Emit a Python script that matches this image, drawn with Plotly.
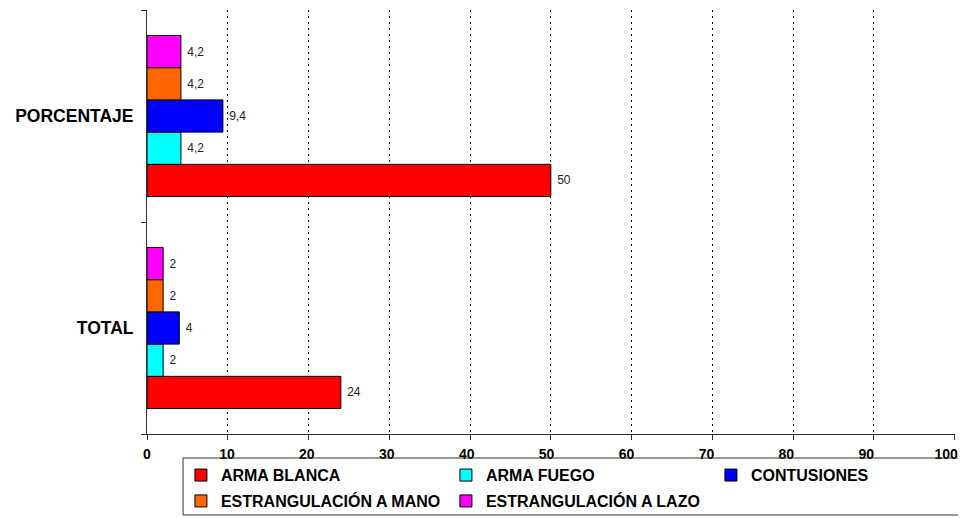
import plotly.graph_objects as go

categorias = ['TOTAL', 'PORCENTAJE']
arma_blanca = [24, 50]
arma_fuego = [2, 4.2]
contusiones = [4, 9.4]
estrang_mano = [2, 4.2]
estrang_lazo = [2, 4.2]
x_ticks = [0, 10, 20, 30, 40, 50, 60, 70, 80, 90, 100]

series = [
    ('ARMA BLANCA', arma_blanca, '#FF0000', 'legend'),
    ('ARMA FUEGO', arma_fuego, '#00FFFF', 'legend'),
    ('CONTUSIONES', contusiones, '#0000FF', 'legend'),
    ('ESTRANGULACIÓN A MANO', estrang_mano, '#FF6600', 'legend2'),
    ('ESTRANGULACIÓN A LAZO', estrang_lazo, '#FF00FF', 'legend2'),
]

def fmt(v):
    # coma decimal como en el original
    return '\u00a0' + ('%g' % v).replace('.', ',')

fig = go.Figure()
for name, vals, color, leg in series:
    fig.add_trace(go.Bar(
        y=categorias, x=vals, name=name, orientation='h',
        marker=dict(color=color, line=dict(color='black', width=1)),
        text=[fmt(v) for v in vals], textposition='outside',
        textfont=dict(family='Arial, Liberation Sans', size=12, color='#222222'),
        cliponaxis=False, legend=leg,
    ))

# traza invisible para que se dibuje el eje x2 (solo etiquetas)
fig.add_trace(go.Scatter(
    x=[x_ticks[0], x_ticks[-1]], y=[categorias[0], categorias[0]], xaxis='x2',
    mode='markers', marker=dict(opacity=0), showlegend=False, hoverinfo='skip'))

font_leg = dict(family='Arial, Liberation Sans', size=16, color='black', weight='bold')
font_tick = dict(family='Arial, Liberation Sans', size=14, color='black', weight='bold')
leg_common = dict(orientation='h', xanchor='left', yanchor='top', x=0.042,
                  font=font_leg, entrywidth=220, entrywidthmode='pixels',
                  traceorder='normal', itemclick=False, bgcolor='rgba(0,0,0,0)')

# la página tiene 8px de margen en body
fig.update_layout(
    width=958, height=510,
    margin=dict(l=139, r=11, t=2, b=84, autoexpand=False),
    paper_bgcolor='white', plot_bgcolor='white',
    barmode='group', bargap=0.24, bargroupgap=0,
    font=dict(family='Arial, Liberation Sans'),
    legend=dict(y=-0.057, **leg_common),
    legend2=dict(y=-0.118, **leg_common),
    shapes=[dict(type='rect', xref='paper', yref='paper',
                 x0=0.0446, x1=1.0087, y0=-0.191, y1=-0.0566,
                 line=dict(color='#333333', width=1))],
    xaxis=dict(range=[0, 100.05], tickvals=x_ticks, showticklabels=False,
               showgrid=True, gridcolor='black', griddash='2px,4px', gridwidth=1,
               zeroline=False, showline=True, linecolor='#333333', linewidth=1,
               ticks='outside', ticklen=5, tickcolor='#333333'),
    # etiquetas del eje x algo más juntas que las marcas, como en el original
    xaxis2=dict(overlaying='x', side='bottom', range=[0, 101.1], tickvals=x_ticks,
                showgrid=False, zeroline=False, showline=False,
                ticks='outside', ticklen=5, tickcolor='rgba(0,0,0,0)',
                ticklabelstandoff=2, tickfont=font_tick),
    yaxis=dict(categoryorder='array', categoryarray=categorias,
               range=[-0.5, 1.5], showgrid=False, zeroline=False,
               showline=True, linecolor='#333333', linewidth=1,
               ticks='outside', ticklen=5, tickcolor='#333333', tickson='boundaries',
               ticklabelstandoff=9,
               tickfont=dict(family='Arial, Liberation Sans', size=17.5, color='black', weight='bold')),
)

fig.write_html("out.html")
